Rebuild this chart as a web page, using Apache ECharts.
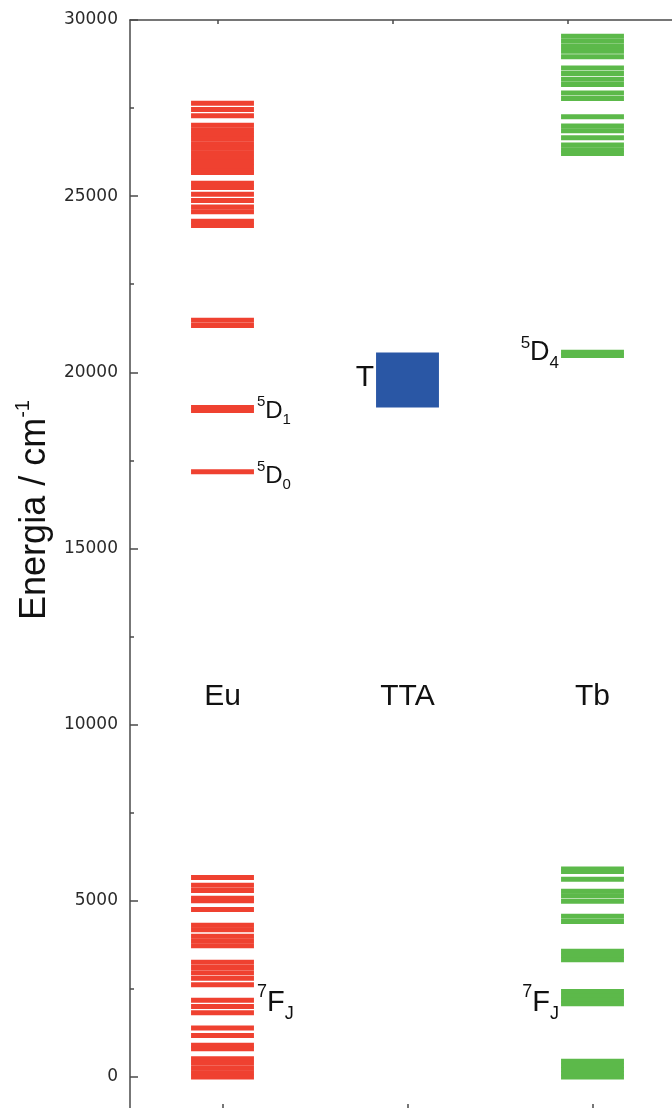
<!DOCTYPE html>
<html>
<head>
<meta charset="utf-8">
<script src="https://cdn.jsdelivr.net/npm/echarts@6/dist/echarts.min.js"></script>
<style>
html,body{margin:0;padding:0;background:#fff;}
#chart{width:672px;height:1108px;}
</style>
</head>
<body>
<div id="chart"></div>
<script>
// ---------- data ----------
const categories = ['Eu', 'TTA', 'Tb'];
const categoryPos = [1, 2, 3];
const yTicks = [0, 5000, 10000, 15000, 20000, 25000, 30000];
const yMinorTicks = [2500, 7500, 12500, 17500, 22500, 27500];
const topTicks = [0.5, 1.5, 2.5];

// Eu3+ energy levels (cm-1)
const euLevels = [
  27640, 27460, 27280,
  27010, 26880, 26750, 26620, 26490, 26360, 26230, 26100, 25970, 25840, 25710, 25670,
  25370, 25245, 25055, 24880, 24690, 24560, 24290, 24165,
  21480, 21330,
  19000, 18920,
  17175,
  5665, 5440, 5290, 5075, 5000, 4755, 4305, 4180, 3995, 3860, 3725,
  3255, 3110, 2960, 2800, 2620, 2175, 2000, 1825, 1390, 1180, 900, 800,
  520, 390, 250, 120, 0
];
// Tb3+ energy levels (cm-1)
const tbLevels = [
  29540, 29400, 29250, 29110, 28960,
  28635, 28480, 28320, 28170,
  27925, 27770, 27255, 26990, 26860, 26655, 26450, 26315, 26210,
  20570, 20475,
  5900, 5830, 5610, 5270, 5145, 4990, 4560, 4410,
  3570, 3450, 3330, 2430, 2290, 2180, 2080,
  445, 325, 215, 100, 0
];
// TTA triplet band (cm-1)
const ttaBand = [19000, 20560];
// energy at which the group names sit
const groupLabelEnergy = 10800;

// annotations: category, energy, side, text
const annotations = [
  { cat: 'Eu', energy: 18900, side: 'right', size: 'm', text: '{sup|5}{b|D}{sub|1}' },
  { cat: 'Eu', energy: 17060, side: 'right', size: 'm', text: '{sup|5}{b|D}{sub|0}' },
  { cat: 'Eu', energy: 2100, side: 'right', size: 'l', text: '{sup|7}{b|F}{sub|J}' },
  { cat: 'TTA', energy: 19840, side: 'left', size: 'xl', text: '{b|T}' },
  { cat: 'Tb', energy: 20550, side: 'left', size: 'ml', text: '{sup|5}{b|D}{sub|4}' },
  { cat: 'Tb', energy: 2100, side: 'left', size: 'l', text: '{sup|7}{b|F}{sub|J}' }
];

// ---------- styles ----------
const FONT = '"Liberation Sans", Arial, Helvetica, sans-serif';
const TXT = '#111111';
const AXIS = '#4a4a4a';
const RED = '#EF4130';
const GREEN = '#5CB94A';
const BLUE = '#2A57A5';
const BAR_FRAC = 0.34;
const LINE_PX = 5;
const X_MIN = 0.5, X_MAX = 0.5 + 542 / 185;      // 185 px per category
const TOP_MAX = 542 / 175;                         // top frame scale
const Y_MIN = -880, Y_MAX = 30000;

function posOf(cat) { return categoryPos[categories.indexOf(cat)]; }

function tok(size, va) {
  return { fontSize: size, lineHeight: size, verticalAlign: va, fontFamily: FONT, fill: TXT, color: TXT };
}
function richFor(big) {
  const small = Math.round(big * 0.62);
  const b = tok(big, 'middle'); b.lineHeight = Math.round(big * 1.38);
  return { sup: tok(small, 'top'), b: b, sub: tok(small, 'bottom') };
}
const sizeMap = { m: 24, ml: 27, l: 29, xl: 30 };
const distMap = { right: 3, left: 2 };

function levelSeries(levels, cat, color) {
  const x = posOf(cat);
  return {
    type: 'custom',
    xAxisIndex: 0, yAxisIndex: 0,
    data: levels.map(e => [x, e]),
    encode: { x: 0, y: 1 },
    renderItem: function (params, api) {
      const c = api.coord([api.value(0), api.value(1)]);
      const bw = api.size([1, 0])[0] * BAR_FRAC;
      return {
        type: 'rect',
        shape: { x: c[0] - bw / 2, y: c[1] - LINE_PX / 2, width: bw, height: LINE_PX },
        style: { fill: color }
      };
    },
    silent: true
  };
}

const ttaSeries = {
  type: 'custom',
  xAxisIndex: 0, yAxisIndex: 0,
  data: [[posOf('TTA'), ttaBand[0], ttaBand[1]]],
  encode: { x: 0, y: [1, 2] },
  renderItem: function (params, api) {
    const lo = api.coord([api.value(0), api.value(1)]);
    const hi = api.coord([api.value(0), api.value(2)]);
    const bw = api.size([1, 0])[0] * BAR_FRAC;
    return {
      type: 'rect',
      shape: { x: lo[0] - bw / 2, y: hi[1], width: bw, height: lo[1] - hi[1] },
      style: { fill: BLUE }
    };
  },
  silent: true
};

const groupNameSeries = {
  type: 'custom',
  xAxisIndex: 0, yAxisIndex: 0,
  data: categoryPos.map(p => [p, groupLabelEnergy]),
  encode: { x: 0, y: 1 },
  renderItem: function (params, api) {
    const c = api.coord([api.value(0), api.value(1)]);
    return {
      type: 'text',
      x: c[0], y: c[1],
      style: {
        text: categories[params.dataIndex],
        align: 'center', verticalAlign: 'middle',
        fontFamily: FONT, fontSize: 30, fill: TXT
      }
    };
  },
  silent: true
};

const annotationSeries = {
  type: 'custom',
  xAxisIndex: 0, yAxisIndex: 0,
  data: annotations.map(a => [posOf(a.cat), a.energy]),
  encode: { x: 0, y: 1 },
  renderItem: function (params, api) {
    const a = annotations[params.dataIndex];
    const c = api.coord([api.value(0), api.value(1)]);
    const half = api.size([1, 0])[0] * BAR_FRAC / 2;
    const right = a.side === 'right';
    const d = distMap[a.side];
    return {
      type: 'text',
      x: right ? c[0] + half + d : c[0] - half - d,
      y: c[1],
      style: {
        text: a.text,
        align: right ? 'left' : 'right',
        verticalAlign: 'middle',
        fill: TXT,
        rich: richFor(sizeMap[a.size])
      }
    };
  },
  silent: true
};

const chart = echarts.init(document.getElementById('chart'), null, { renderer: 'canvas' });
chart.setOption({
  animation: false,
  backgroundColor: '#ffffff',
  grid: { left: 130, top: 20, right: 0, bottom: 0, containLabel: false },
  xAxis: [
    {
      type: 'value', position: 'bottom', min: X_MIN, max: X_MAX,
      axisLine: { show: false, onZero: false },
      axisTick: { show: true, inside: true, length: 4, customValues: categoryPos, lineStyle: { color: AXIS, width: 1.5 } },
      axisLabel: { show: false },
      splitLine: { show: false }
    },
    {
      type: 'value', position: 'top', min: 0, max: TOP_MAX,
      axisLine: { show: true, onZero: false, lineStyle: { color: AXIS, width: 1.5 } },
      axisTick: { show: true, inside: true, length: 4, customValues: topTicks, lineStyle: { color: AXIS, width: 1.5 } },
      axisLabel: { show: false },
      splitLine: { show: false }
    }
  ],
  yAxis: [
    {
      type: 'value', position: 'left', min: Y_MIN, max: Y_MAX,
      axisLine: { show: true, onZero: false, lineStyle: { color: AXIS, width: 1.5 } },
      axisTick: { show: true, inside: true, length: 8, customValues: yTicks, lineStyle: { color: AXIS, width: 1.5 } },
      axisLabel: {
        show: true, customValues: yTicks, margin: 12,
        formatter: v => String(v),
        fontFamily: '"DejaVu Sans", sans-serif', fontSize: 17, color: '#2a2a2a'
      },
      splitLine: { show: false }
    },
    {
      type: 'value', position: 'left', min: Y_MIN, max: Y_MAX,
      axisLine: { show: false, onZero: false },
      axisTick: { show: true, inside: true, length: 4, customValues: yMinorTicks, lineStyle: { color: AXIS, width: 1.5 } },
      axisLabel: { show: false },
      splitLine: { show: false }
    }
  ],
  graphic: [
    {
      type: 'text',
      x: 35, y: 510,
      rotation: Math.PI / 2,
      style: {
        text: '{a|Energia / cm}{s|-1}',
        align: 'center', verticalAlign: 'middle',
        rich: {
          a: { fontFamily: FONT, fontSize: 36, lineHeight: 44, verticalAlign: 'middle', fill: TXT, color: TXT },
          s: { fontFamily: FONT, fontSize: 20, lineHeight: 20, verticalAlign: 'top', fill: TXT, color: TXT }
        }
      }
    }
  ],
  series: [
    levelSeries(euLevels, 'Eu', RED),
    levelSeries(tbLevels, 'Tb', GREEN),
    ttaSeries,
    groupNameSeries,
    annotationSeries
  ]
});
</script>
</body>
</html>
